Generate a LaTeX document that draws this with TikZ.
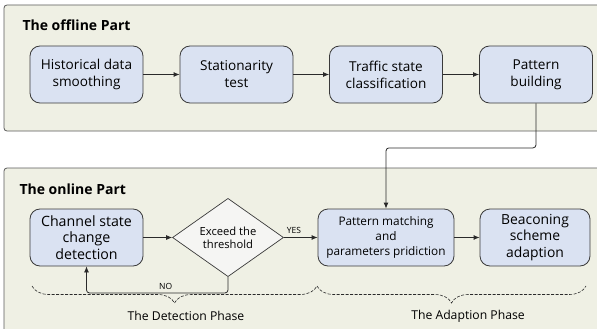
\documentclass[tikz,border=0pt]{standalone}
\usepackage{fontspec}
\setmainfont{Open Sans}
\usetikzlibrary{shapes.geometric,arrows.meta,decorations.pathreplacing,calc}
\definecolor{panelfill}{HTML}{EFF0E4}
\definecolor{paneldraw}{HTML}{5A5A5A}
\definecolor{boxfill}{HTML}{DAE2F2}
\definecolor{boxdraw}{HTML}{3A3A3A}
\definecolor{diafill}{HTML}{F5F5F3}
\definecolor{linecol}{HTML}{2A2A2A}
\begin{document}
\begin{tikzpicture}[x=1pt,y=-1pt,
  panel/.style={draw=paneldraw,fill=panelfill,rounded corners=3pt,line width=0.8pt},
  procbox/.style={draw=boxdraw,fill=boxfill,rounded corners=10pt,line width=0.8pt,
    minimum width=113pt,minimum height=57pt,inner sep=0pt,align=center,
    font=\fontsize{13.6}{17}\selectfont},
  decbox/.style={diamond,draw=boxdraw,fill=diafill,line width=0.7pt,
    minimum width=111pt,minimum height=52pt,inner sep=0pt,align=center,
    font=\fontsize{11.2}{13}\selectfont},
  arr/.style={draw=linecol,line width=0.8pt,-{Latex[length=6pt,width=5pt]}},
  title/.style={font=\fontsize{14}{16}\selectfont\bfseries,anchor=west},
  small/.style={font=\fontsize{8.5}{10}\selectfont},
  phase/.style={font=\fontsize{12.2}{14}\selectfont},
  bracestyle/.style={draw=linecol,dash pattern=on 3pt off 1.5pt,line width=0.6pt,
    decorate,decoration={brace,mirror,amplitude=17pt,aspect=0.5}}
]
\useasboundingbox (0,0) rectangle (597,329);
\begin{scope}
\clip (0,0) rectangle (597,329);
\draw[panel] (4,5) rectangle (620,131);
\draw[panel] (4,168) rectangle (620,350);
\end{scope}

\node[title] (t1) at (19,25) {The offline Part};
\node[title] (t2) at (16,189) {The online Part};

\node[procbox] (b1) at (86.5,74.5) {Historical data\\smoothing};
\node[procbox] (b2) at (236.5,74.5) {Stationarity\\test};
\node[procbox] (b3) at (386,74.5) {Traffic state\\classification};
\node[procbox] (b4) at (536,74.5) {Pattern\\building};

\draw[arr] (b1) -- (b2);
\draw[arr] (b2) -- (b3);
\draw[arr] (b3) -- (b4);

\node[procbox,font=\fontsize{14.2}{16.7}\selectfont] (cs) at (86.5,237.5) {Channel state\\change\\detection};
\node[decbox] (dia) at (228,237.5) {Exceed the\\threshold};
\node[procbox,minimum width=136pt,font=\fontsize{11.8}{15}\selectfont] (pm) at (386,237.5) {Pattern matching\\and\\parameters pridiction};
\node[procbox,minimum width=110pt,font=\fontsize{13.9}{16.7}\selectfont] (bs) at (535,237.5) {Beaconing\\scheme\\adaption};

\draw[arr,rounded corners=3pt] (b4.south) -- ++(0,44.5) -| (pm.north);
\draw[arr] (cs) -- (dia);
\draw[arr] (dia) -- node[small,above,pos=0.3] (yes) {YES} (pm);
\draw[arr] (pm) -- (bs);
\draw[arr,rounded corners=3pt] (dia.south) -- ++(0,16) -| node[small,above,pos=0.22] (no) {NO} (cs.south);

\coordinate (d1) at (32,286);
\coordinate (d2) at (317,286);
\coordinate (d3) at (586,286);
\draw[bracestyle] (d1) -- (d2);
\draw[bracestyle] (d2) -- (d3);
\node[phase] (p1) at (186,316) {The Detection Phase};
\node[phase] (p2) at (468,316) {The Adaption Phase};
\end{tikzpicture}
\end{document}
